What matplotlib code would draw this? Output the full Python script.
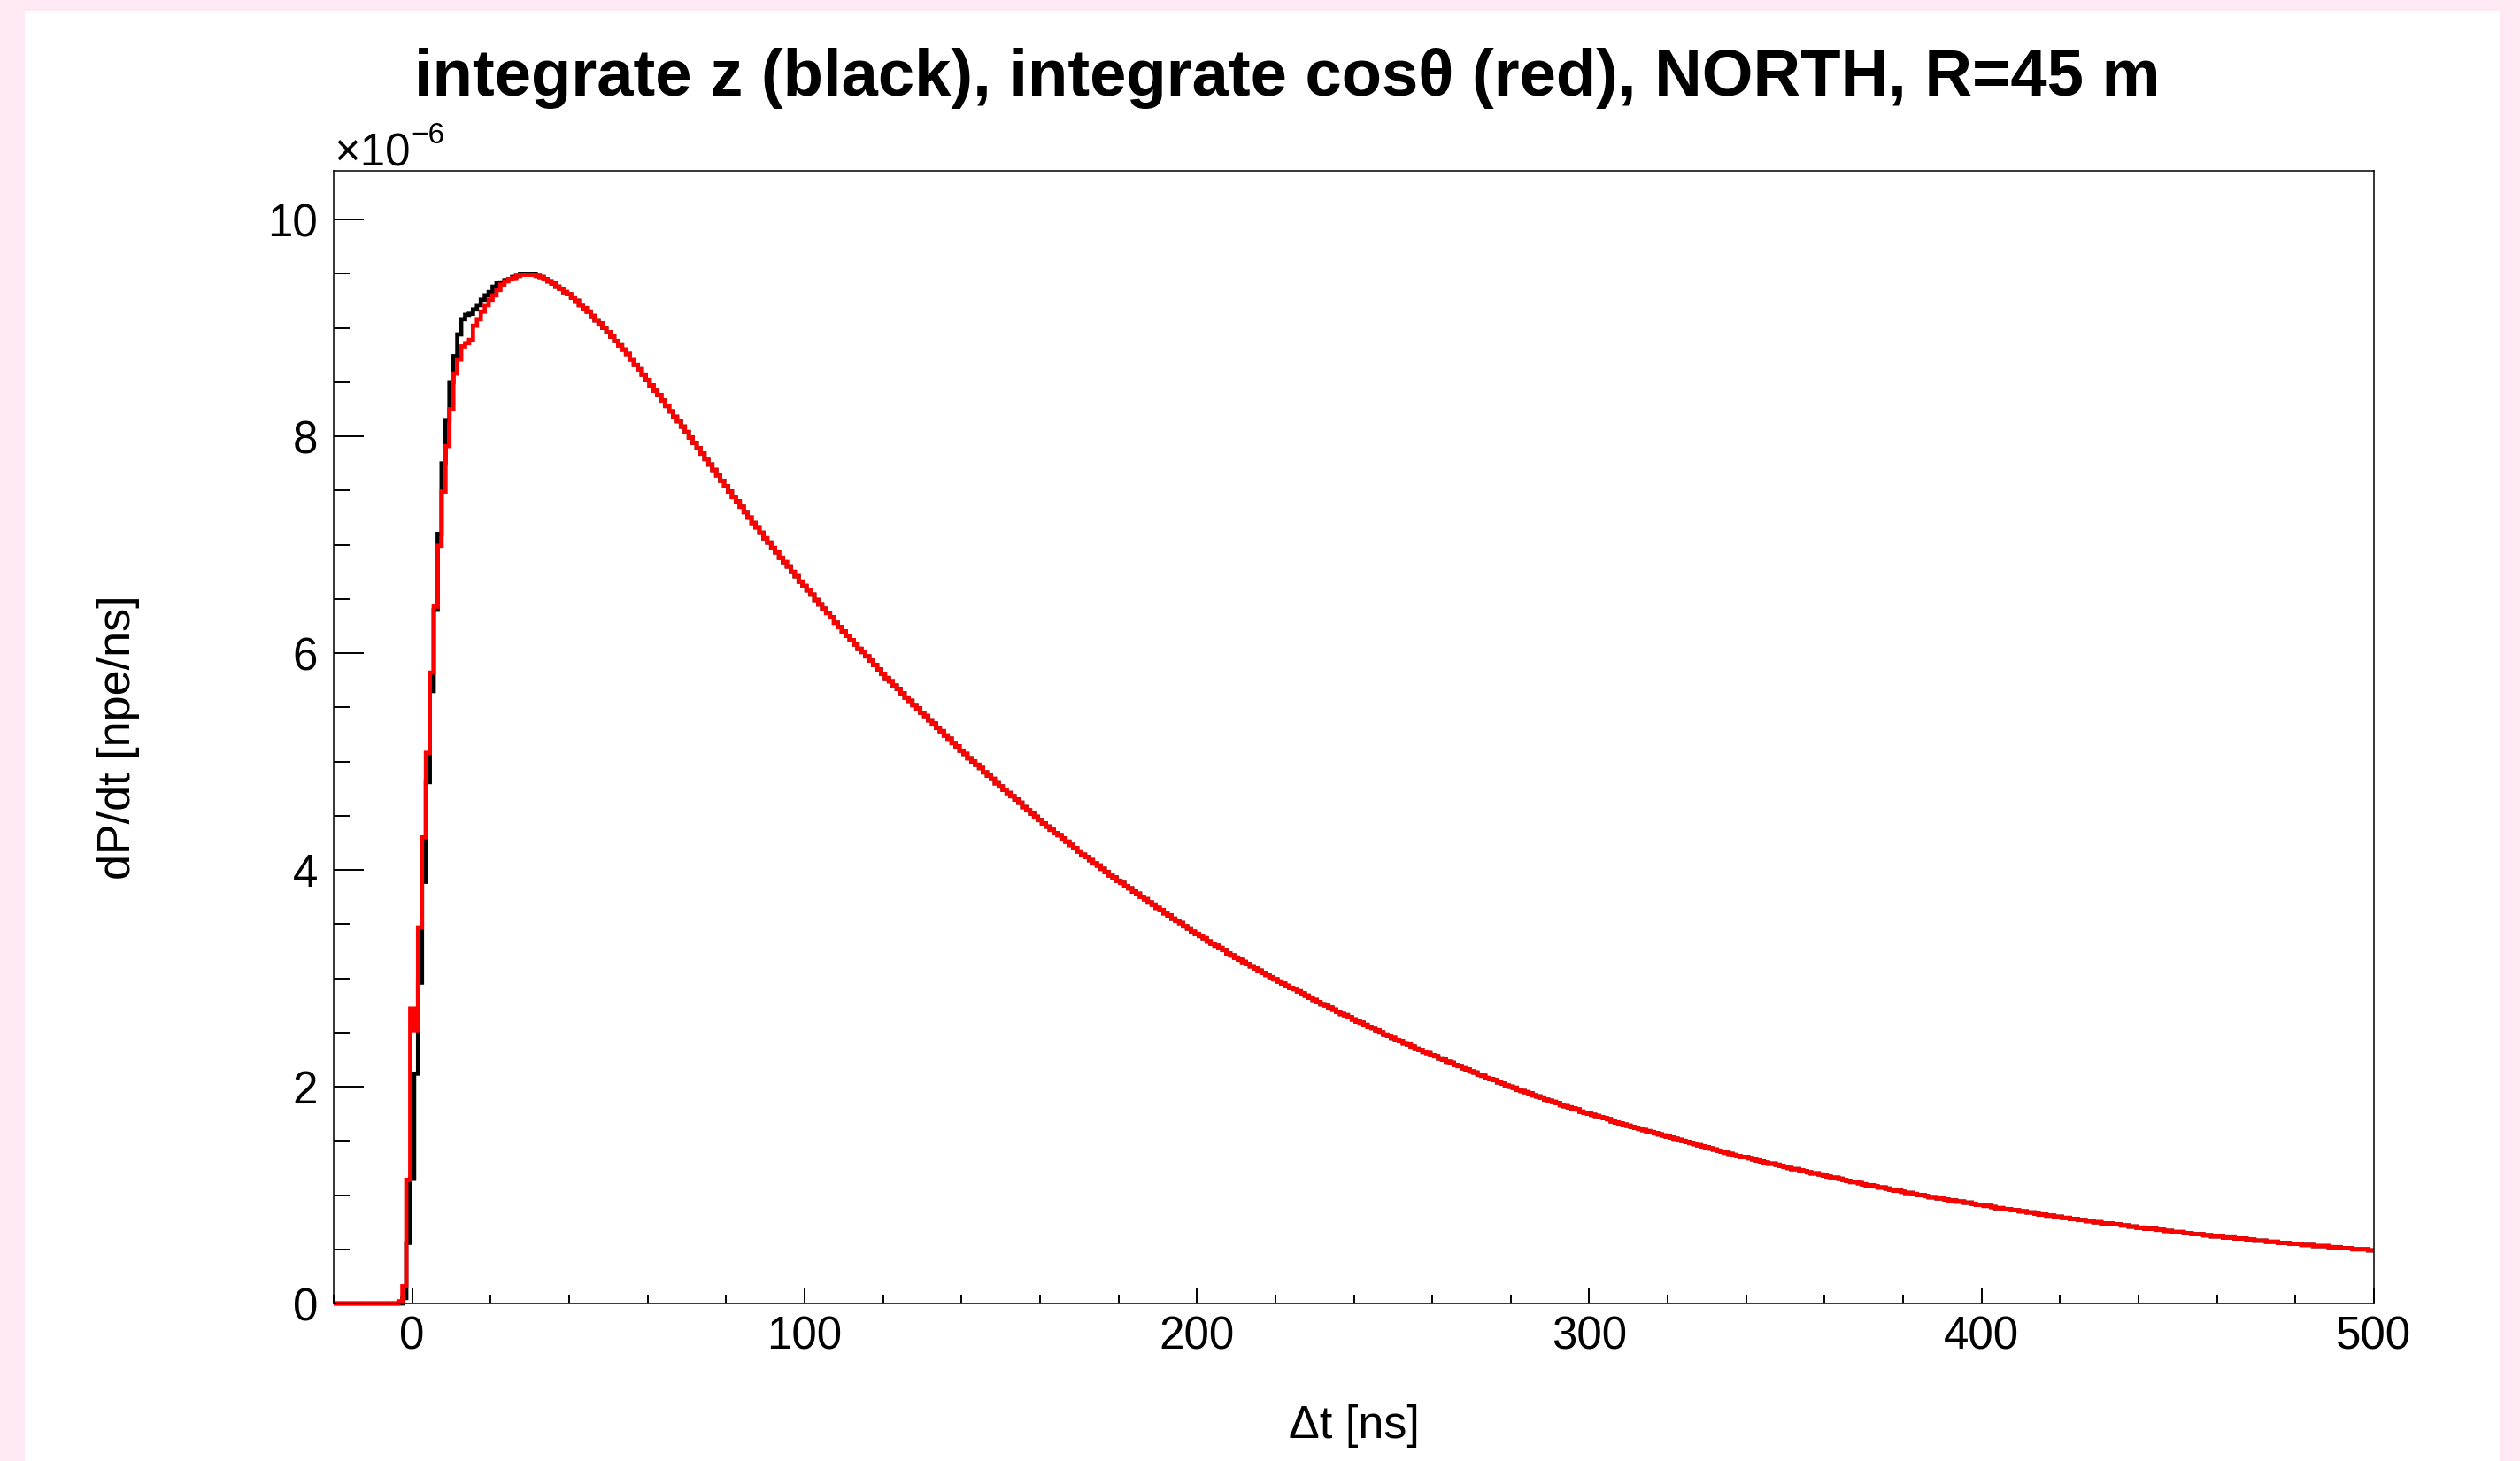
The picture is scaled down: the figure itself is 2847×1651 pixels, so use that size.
import numpy as np
import matplotlib.pyplot as plt
from matplotlib.ticker import MultipleLocator, FuncFormatter
from matplotlib.patches import Rectangle
from matplotlib.transforms import Bbox, TransformedBbox

plt.rcParams["font.family"] = ["Liberation Sans", "DejaVu Sans"]

W, H, DPI = 2847, 1651, 100

# histogram binning: 1 ns bins, centres from -20 ns to 500 ns
t_first = -20
bin_width = 1.0

# dP/dt in units of 1e-6 npe/ns, bins -20 .. 35 ns
rise_red = [0.0] * 17 + [
    0.02, 0.16, 1.14, 2.72, 2.52, 3.47, 4.30, 5.08, 5.82, 6.43,
    6.99, 7.49, 7.91, 8.25, 8.58, 8.71, 8.83, 8.86, 8.89, 9.02,
    9.08, 9.15, 9.21, 9.26, 9.30, 9.35, 9.40, 9.43, 9.45, 9.46,
    9.48, 9.49, 9.49, 9.49, 9.49, 9.48, 9.47, 9.45, 9.43,
]
rise_black = [0.0] * 17 + [
    0.00, 0.05, 0.56, 1.15, 2.12, 2.96, 3.89, 4.81, 5.65, 6.40,
    7.10, 7.75, 8.15, 8.50, 8.74, 8.94, 9.08, 9.12, 9.13, 9.17,
    9.21, 9.26, 9.30, 9.33, 9.38, 9.41, 9.42, 9.44, 9.45, 9.47,
    9.48, 9.50, 9.50, 9.50, 9.50, 9.48, 9.47, 9.45, 9.43,
]

# both methods agree past the peak, bins 36 .. 500 ns
tail = [
    9.41, 9.38, 9.36, 9.33, 9.31,
    9.28, 9.25, 9.21, 9.18, 9.15, 9.11, 9.07, 9.04, 9.00, 8.96,
    8.92, 8.88, 8.84, 8.80, 8.76, 8.71, 8.66, 8.62, 8.57, 8.52,
    8.47, 8.42, 8.38, 8.33, 8.28, 8.23, 8.18, 8.14, 8.09, 8.04,
    7.99, 7.94, 7.89, 7.84, 7.79, 7.74, 7.69, 7.64, 7.59, 7.54,
    7.49, 7.44, 7.40, 7.35, 7.30, 7.25, 7.20, 7.16, 7.11, 7.06,
    7.02, 6.97, 6.93, 6.88, 6.84, 6.80, 6.75, 6.71, 6.66, 6.62,
    6.58, 6.54, 6.49, 6.45, 6.41, 6.37, 6.33, 6.28, 6.24, 6.20,
    6.16, 6.12, 6.08, 6.04, 6.01, 5.97, 5.93, 5.89, 5.85, 5.81,
    5.77, 5.74, 5.70, 5.67, 5.63, 5.59, 5.56, 5.52, 5.49, 5.45,
    5.42, 5.38, 5.35, 5.31, 5.28, 5.24, 5.21, 5.17, 5.14, 5.10,
    5.07, 5.03, 5.00, 4.97, 4.94, 4.90, 4.87, 4.84, 4.80, 4.77,
    4.74, 4.71, 4.68, 4.65, 4.62, 4.58, 4.55, 4.52, 4.49, 4.46,
    4.43, 4.40, 4.37, 4.34, 4.32, 4.29, 4.26, 4.23, 4.20, 4.17,
    4.14, 4.12, 4.09, 4.06, 4.04, 4.01, 3.98, 3.95, 3.93, 3.90,
    3.88, 3.85, 3.83, 3.80, 3.78, 3.75, 3.73, 3.70, 3.68, 3.65,
    3.63, 3.60, 3.58, 3.55, 3.53, 3.51, 3.48, 3.46, 3.43, 3.41,
    3.39, 3.37, 3.34, 3.32, 3.30, 3.28, 3.26, 3.23, 3.21, 3.19,
    3.17, 3.15, 3.13, 3.11, 3.09, 3.07, 3.05, 3.03, 3.01, 2.99,
    2.97, 2.95, 2.93, 2.91, 2.90, 2.88, 2.86, 2.84, 2.82, 2.80,
    2.78, 2.76, 2.75, 2.73, 2.71, 2.69, 2.67, 2.66, 2.64, 2.62,
    2.60, 2.59, 2.57, 2.55, 2.54, 2.52, 2.50, 2.48, 2.47, 2.45,
    2.43, 2.42, 2.40, 2.39, 2.37, 2.35, 2.34, 2.32, 2.31, 2.29,
    2.28, 2.26, 2.25, 2.23, 2.22, 2.20, 2.19, 2.17, 2.16, 2.14,
    2.13, 2.11, 2.10, 2.08, 2.07, 2.06, 2.04, 2.03, 2.01, 2.00,
    1.99, 1.97, 1.96, 1.95, 1.94, 1.92, 1.91, 1.90, 1.88, 1.87,
    1.86, 1.85, 1.83, 1.82, 1.81, 1.80, 1.79, 1.77, 1.76, 1.75,
    1.74, 1.73, 1.72, 1.71, 1.70, 1.68, 1.67, 1.66, 1.65, 1.64,
    1.63, 1.62, 1.61, 1.60, 1.59, 1.58, 1.57, 1.56, 1.55, 1.54,
    1.53, 1.52, 1.51, 1.50, 1.49, 1.48, 1.47, 1.46, 1.45, 1.44,
    1.43, 1.42, 1.41, 1.40, 1.39, 1.38, 1.37, 1.36, 1.35, 1.35,
    1.34, 1.33, 1.32, 1.31, 1.30, 1.29, 1.29, 1.28, 1.27, 1.26,
    1.25, 1.24, 1.24, 1.23, 1.22, 1.21, 1.20, 1.20, 1.19, 1.18,
    1.17, 1.16, 1.16, 1.15, 1.14, 1.13, 1.12, 1.12, 1.11, 1.10,
    1.09, 1.09, 1.08, 1.07, 1.07, 1.06, 1.05, 1.04, 1.04, 1.03,
    1.02, 1.02, 1.01, 1.00, 1.00, 0.99, 0.98, 0.98, 0.97, 0.97,
    0.96, 0.95, 0.95, 0.94, 0.94, 0.93, 0.93, 0.92, 0.91, 0.91,
    0.90, 0.90, 0.89, 0.88, 0.88, 0.87, 0.87, 0.86, 0.86, 0.85,
    0.85, 0.84, 0.84, 0.83, 0.82, 0.82, 0.81, 0.81, 0.80, 0.80,
    0.79, 0.79, 0.78, 0.78, 0.77, 0.77, 0.76, 0.76, 0.75, 0.75,
    0.74, 0.74, 0.74, 0.73, 0.73, 0.72, 0.72, 0.71, 0.71, 0.70,
    0.70, 0.69, 0.69, 0.69, 0.68, 0.68, 0.67, 0.67, 0.66, 0.66,
    0.66, 0.65, 0.65, 0.64, 0.64, 0.64, 0.63, 0.63, 0.62, 0.62,
    0.62, 0.61, 0.61, 0.61, 0.60, 0.60, 0.60, 0.59, 0.59, 0.58,
    0.58, 0.58, 0.57, 0.57, 0.57, 0.56, 0.56, 0.56, 0.55, 0.55,
    0.55, 0.54, 0.54, 0.54, 0.53, 0.53, 0.53, 0.53, 0.52, 0.52,
    0.52, 0.51, 0.51, 0.51, 0.50, 0.50, 0.50, 0.50, 0.49, 0.49,
]

title = "integrate z (black), integrate cos\u03b8 (red), NORTH, R=45 m"
xlabel = "\u0394t [ns]"
ylabel = "dP/dt [npe/ns]"

black = np.array(rise_black + tail) * 1e-6
red = np.array(rise_red + tail) * 1e-6
edges = t_first - bin_width / 2 + bin_width * np.arange(len(red) + 1)


def fx(px):
    return px / W


def fy(py):
    return 1 - py / H


fig = plt.figure(figsize=(W / DPI, H / DPI), dpi=DPI, facecolor="#fde8f3")
fig.patches.append(Rectangle((fx(28), 0), fx(2824) - fx(28), fy(12),
                             transform=fig.transFigure, facecolor="white",
                             edgecolor="none", zorder=-1))

ax = fig.add_axes([fx(377), fy(1473), fx(2682) - fx(377), fy(193) - fy(1473)])
ax.set_xlim(-20, 500)
ax.set_ylim(0, 10.45e-6)

# let the lines sit on the zero axis without being cut in half
clip = TransformedBbox(Bbox([[0, -0.02], [1, 1]]), ax.transAxes)
for vals, col in [(black, "black"), (red, "red")]:
    st = ax.stairs(vals, edges, baseline=None, color=col, linewidth=3.4)
    st.set_clip_box(clip)

ax.xaxis.set_major_locator(MultipleLocator(100))
ax.xaxis.set_minor_locator(MultipleLocator(20))
ax.yaxis.set_major_locator(MultipleLocator(2e-6))
ax.yaxis.set_minor_locator(MultipleLocator(0.5e-6))
ax.yaxis.set_major_formatter(FuncFormatter(lambda v, p: f"{v * 1e6:g}"))

ax.tick_params(which="both", direction="in", top=False, right=False,
               width=1.4, labelsize=36.7)
ax.tick_params(axis="x", which="major", length=13, pad=10)
ax.tick_params(axis="x", which="minor", length=7.2)
ax.tick_params(axis="y", which="major", length=24.5, pad=13)
ax.tick_params(axis="y", which="minor", length=13)
for sp in ax.spines.values():
    sp.set_linewidth(1.1)

fig.text(fx(1454), fy(108), title, ha="center", va="baseline",
         fontsize=53.5, fontweight="bold")
fig.text(fx(1529.5), fy(1625), xlabel, ha="center", va="baseline", fontsize=37.5)
fig.text(fx(133), fy(833), ylabel, ha="center", va="center", rotation=90,
         fontsize=37.5)
fig.text(fx(377), fy(188), "\u00d710", ha="left", va="baseline", fontsize=36.7)
fig.text(fx(464), fy(162), "\u22126", ha="left", va="baseline", fontsize=24)

fig.savefig("out.png", dpi=DPI)
